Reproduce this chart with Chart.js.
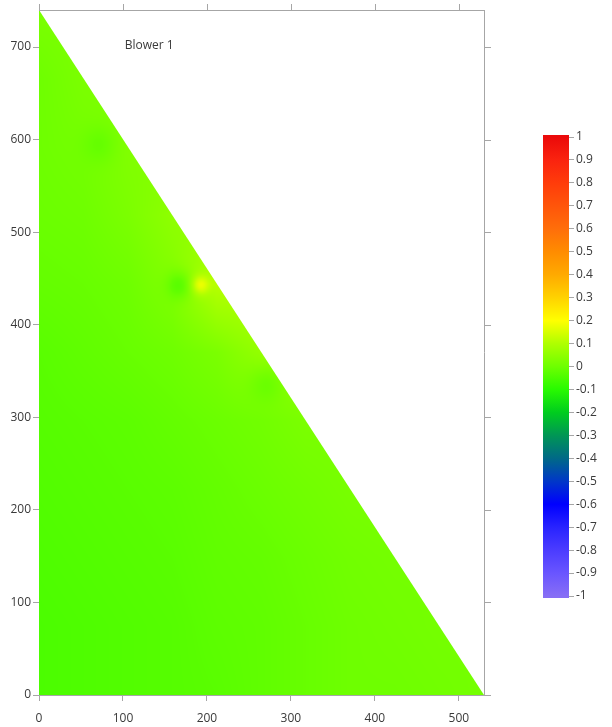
<!DOCTYPE html>
<html>
<head>
<meta charset="utf-8">
<script src="https://cdn.jsdelivr.net/npm/chart.js@4/dist/chart.umd.min.js"></script>
<style>
  html, body { margin: 0; padding: 0; background: #ffffff; }
  #wrap { width: 612px; height: 727px; }
</style>
</head>
<body>
<div id="wrap"><canvas id="c" width="612" height="727"></canvas></div>
<script>
// ---------------- DATA ----------------
const chartTitle = 'Blower 1';

// boundary of the measured domain (triangle)
const boundaryX = [0, 530, 0];
const boundaryY = [0, 0, 740];

// sampled field (rows = gridY from bottom to top, columns = gridX)
const gridX = [0, 53, 106, 159, 212, 265, 318, 371, 424, 477, 530];
const gridY = [0, 74, 148, 222, 296, 370, 444, 518, 592, 666, 740];
const gridValues = [
  [-0.050, -0.045, -0.040, -0.035, -0.030, -0.020, -0.010, 0.000, 0.000, 0.005, 0.010],
  [-0.050, -0.045, -0.040, -0.035, -0.025, -0.020, -0.010, 0.000, 0.005, 0.010, 0.010],
  [-0.045, -0.040, -0.035, -0.030, -0.020, -0.015, -0.005, 0.005, 0.010, 0.010, 0.010],
  [-0.040, -0.035, -0.030, -0.025, -0.015, -0.005, 0.005, 0.015, 0.020, 0.020, 0.020],
  [-0.035, -0.030, -0.025, -0.015, -0.005, 0.005, 0.020, 0.020, 0.020, 0.020, 0.020],
  [-0.030, -0.020, -0.010, 0.000, 0.020, 0.060, 0.060, 0.060, 0.060, 0.060, 0.060],
  [-0.015, -0.010, 0.000, 0.030, 0.110, 0.110, 0.110, 0.110, 0.110, 0.110, 0.110],
  [-0.005, 0.000, 0.020, 0.050, 0.050, 0.050, 0.050, 0.050, 0.050, 0.050, 0.050],
  [0.000, 0.010, 0.030, 0.030, 0.030, 0.030, 0.030, 0.030, 0.030, 0.030, 0.030],
  [0.000, 0.020, 0.020, 0.020, 0.020, 0.020, 0.020, 0.020, 0.020, 0.020, 0.020],
  [0.020, 0.020, 0.020, 0.020, 0.020, 0.020, 0.020, 0.020, 0.020, 0.020, 0.020]
];

// local features (spots)
const spotX = [192, 168, 73, 271];
const spotY = [443, 443, 595, 337];
const spotValues = [0.10, -0.07, -0.03, -0.04];

// axis ticks
const xTickValues = [0, 100, 200, 300, 400, 500];
const yTickValues = [0, 100, 200, 300, 400, 500, 600, 700];
const colorbarTickValues = [1, 0.9, 0.8, 0.7, 0.6, 0.5, 0.4, 0.3, 0.2, 0.1, 0, -0.1, -0.2, -0.3, -0.4, -0.5, -0.6, -0.7, -0.8, -0.9, -1];
const colorbarTickLabels = ['1', '0.9', '0.8', '0.7', '0.6', '0.5', '0.4', '0.3', '0.2', '0.1', '0', '-0.1', '-0.2', '-0.3', '-0.4', '-0.5', '-0.6', '-0.7', '-0.8', '-0.9', '-1'];

// colour scale
const cmapValues = [-1, -0.9, -0.8, -0.7, -0.6, -0.5, -0.4, -0.3, -0.2, -0.1, 0, 0.1, 0.2, 0.3, 0.4, 0.5, 0.6, 0.7, 0.8, 0.9, 1];
const cmapColors = [
  [135, 110, 245], [105, 85, 255], [75, 60, 255], [40, 35, 255], [0, 0, 255],
  [0, 55, 200], [0, 105, 135], [0, 150, 85], [0, 205, 30], [40, 250, 0],
  [110, 255, 0], [175, 255, 0], [255, 255, 0], [255, 210, 0], [255, 170, 0],
  [255, 140, 0], [255, 110, 10], [255, 85, 10], [255, 60, 10], [250, 35, 15],
  [235, 10, 10]
];

// ---------------- STYLE ----------------
const FONT = { family: "'Open Sans', 'DejaVu Sans', sans-serif", size: 12 };
const TEXT_COLOR = '#3a3a3a';
const AXIS_COLOR = '#a6a6a6';
const SPOT_RADII = [10, 15, 20, 20];

// ---------------- HELPERS ----------------
function colorFor(v) {
  if (v <= cmapValues[0]) return cmapColors[0];
  for (let i = 1; i < cmapValues.length; i++) {
    if (v <= cmapValues[i]) {
      const t = (v - cmapValues[i - 1]) / (cmapValues[i] - cmapValues[i - 1]);
      const a = cmapColors[i - 1], b = cmapColors[i];
      return [a[0] + (b[0] - a[0]) * t, a[1] + (b[1] - a[1]) * t, a[2] + (b[2] - a[2]) * t];
    }
  }
  return cmapColors[cmapColors.length - 1];
}
function findIdx(arr, v) {
  if (v <= arr[0]) return [0, 0];
  for (let i = 1; i < arr.length; i++) {
    if (v <= arr[i]) return [i - 1, (v - arr[i - 1]) / (arr[i] - arr[i - 1])];
  }
  return [arr.length - 2, 1];
}
function fieldAt(dx, dy) {
  const [i, tx] = findIdx(gridX, dx);
  const [j, ty] = findIdx(gridY, dy);
  const v00 = gridValues[j][i], v10 = gridValues[j][i + 1];
  const v01 = gridValues[j + 1][i], v11 = gridValues[j + 1][i + 1];
  let v = (v00 * (1 - tx) + v10 * tx) * (1 - ty) + (v01 * (1 - tx) + v11 * tx) * ty;
  for (let k = 0; k < spotX.length; k++) {
    const ddx = dx - spotX[k], ddy = dy - spotY[k];
    v += spotValues[k] * Math.exp(-(ddx * ddx + ddy * ddy) / (SPOT_RADII[k] * SPOT_RADII[k]));
  }
  return v;
}
const rgb = c => `rgb(${Math.round(c[0])},${Math.round(c[1])},${Math.round(c[2])})`;

// ---------------- PLUGINS ----------------
const colorbarLayout = {
  id: 'colorbarLayout',
  afterLayout(chart) {
    const cb = chart.scales.cb;
    const a = chart.chartArea;
    cb.left = a.right + 85;
    cb.right = 612;
    cb.top = 137;
    cb.bottom = 596;
    cb.width = cb.right - cb.left;
    cb.height = cb.bottom - cb.top;
    cb.configure();
  }
};

const heatmap = {
  id: 'heatmap',
  beforeDatasetsDraw(chart) {
    const { ctx, chartArea: a, scales: { x, y } } = chart;
    const W = Math.ceil(a.right - a.left), H = Math.ceil(a.bottom - a.top);
    const off = document.createElement('canvas');
    off.width = W; off.height = H;
    const octx = off.getContext('2d');
    const img = octx.createImageData(W, H);
    for (let py = 0; py < H; py++) {
      const dy = y.getValueForPixel(a.top + py + 0.5);
      for (let px = 0; px < W; px++) {
        const dx = x.getValueForPixel(a.left + px + 0.5);
        const c = colorFor(fieldAt(dx, dy));
        const k = (py * W + px) * 4;
        img.data[k] = c[0]; img.data[k + 1] = c[1]; img.data[k + 2] = c[2]; img.data[k + 3] = 255;
      }
    }
    octx.putImageData(img, 0, 0);
    const meta = chart.getDatasetMeta(0);
    ctx.save();
    ctx.beginPath();
    meta.data.forEach((p, i) => i ? ctx.lineTo(p.x, p.y) : ctx.moveTo(p.x, p.y));
    ctx.closePath();
    ctx.clip();
    ctx.drawImage(off, a.left, a.top);
    ctx.restore();
  }
};

const frame = {
  id: 'frame',
  afterDraw(chart) {
    const { ctx, chartArea: a, scales: { x, y, cb } } = chart;
    ctx.save();
    // top and right borders with outward ticks
    ctx.strokeStyle = AXIS_COLOR;
    ctx.lineWidth = 1;
    ctx.beginPath();
    ctx.moveTo(a.left, a.top + 0.5); ctx.lineTo(a.right + 0.5, a.top + 0.5);
    ctx.moveTo(a.right + 0.5, a.top); ctx.lineTo(a.right + 0.5, a.bottom);
    xTickValues.forEach(v => {
      const px = Math.round(x.getPixelForValue(v)) + 0.5;
      ctx.moveTo(px, a.top); ctx.lineTo(px, a.top - 6);
    });
    yTickValues.forEach(v => {
      const py = Math.round(y.getPixelForValue(v)) + 0.5;
      ctx.moveTo(a.right, py); ctx.lineTo(a.right + 7, py);
    });
    ctx.stroke();

    // colour bar
    const pTop = cb.getPixelForValue(1), pBot = cb.getPixelForValue(-1);
    const g = ctx.createLinearGradient(0, pBot, 0, pTop);
    cmapValues.forEach((v, i) => {
      g.addColorStop((cb.getPixelForValue(v) - pBot) / (pTop - pBot), rgb(cmapColors[i]));
    });
    ctx.fillStyle = g;
    ctx.fillRect(cb.left - 26, pTop - 2, 26, pBot - pTop + 4);

    // annotation
    ctx.fillStyle = TEXT_COLOR;
    ctx.font = `${FONT.size}px ${FONT.family}`;
    ctx.textAlign = 'left';
    ctx.textBaseline = 'middle';
    ctx.fillText(chartTitle, x.getPixelForValue(102), y.getPixelForValue(702));
    ctx.restore();
  }
};

// ---------------- CHART ----------------
new Chart(document.getElementById('c'), {
  type: 'scatter',
  data: {
    datasets: [{
      label: chartTitle,
      data: boundaryX.map((v, i) => ({ x: v, y: boundaryY[i] })),
      showLine: false,
      pointRadius: 0,
      pointHoverRadius: 0
    }]
  },
  options: {
    responsive: false,
    animation: false,
    events: [],
    layout: { padding: { top: 10, right: 0, bottom: 0, left: 0 } },
    plugins: { legend: { display: false }, tooltip: { enabled: false }, title: { display: false } },
    scales: {
      x: {
        type: 'linear', position: 'bottom', min: 0, max: 530,
        afterBuildTicks: s => { s.ticks = xTickValues.map(v => ({ value: v })); },
        ticks: { color: TEXT_COLOR, font: FONT, padding: 10, maxRotation: 0, includeBounds: false },
        grid: { drawOnChartArea: false, drawTicks: true, tickLength: 6, color: AXIS_COLOR },
        border: { display: true, color: AXIS_COLOR },
        afterFit: s => { s.height = 32; }
      },
      y: {
        type: 'linear', position: 'left', min: 0, max: 740,
        afterBuildTicks: s => { s.ticks = yTickValues.map(v => ({ value: v })); },
        ticks: { color: TEXT_COLOR, font: FONT, padding: 2, includeBounds: false },
        grid: { drawOnChartArea: false, drawTicks: true, tickLength: 6, color: AXIS_COLOR },
        border: { display: true, color: AXIS_COLOR },
        afterFit: s => { s.width = 39; }
      },
      cb: {
        type: 'linear', position: 'right', min: -1, max: 1,
        afterBuildTicks: s => { s.ticks = colorbarTickValues.map(v => ({ value: v })); },
        ticks: {
          color: TEXT_COLOR, font: FONT, padding: 2, includeBounds: false,
          callback: (v, i) => colorbarTickLabels[i]
        },
        grid: { drawOnChartArea: false, drawTicks: true, tickLength: 5, color: AXIS_COLOR },
        border: { display: false },
        afterFit: s => { s.width = 128; }
      }
    }
  },
  plugins: [colorbarLayout, heatmap, frame]
});
</script>
</body>
</html>
